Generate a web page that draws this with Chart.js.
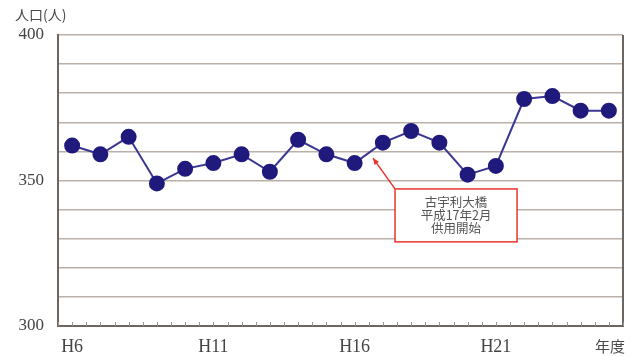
<!DOCTYPE html>
<html>
<head>
<meta charset="utf-8">
<script src="https://cdn.jsdelivr.net/npm/chart.js@4.4.0/dist/chart.umd.min.js"></script>
<style>
  html, body { margin: 0; padding: 0; background: #ffffff; }
  #wrap { width: 634px; height: 356px; position: relative; }
</style>
</head>
<body>
<div id="wrap"><canvas id="popChart"></canvas></div>
<script>
// 年度ごとの人口（人）
var years = ['H6', 'H7', 'H8', 'H9', 'H10', 'H11', 'H12', 'H13', 'H14', 'H15',
             'H16', 'H17', 'H18', 'H19', 'H20', 'H21', 'H22', 'H23', 'H24', 'H25'];
var population = [362, 359, 365, 349, 354, 356, 359, 353, 364, 359,
                  356, 363, 367, 363, 352, 355, 378, 379, 374, 374];
var shownYearLabels = ['H6', 'H11', 'H16', 'H21'];
var shownPopLabels = [300, 350, 400];
var noteLines = ['古宇利大橋', '平成17年2月', '供用開始'];

var gridColor = '#bbb0a8';
var axisColor = '#6d6560';
var jpFont = '"Noto Sans CJK JP", "Noto Sans", sans-serif';

// 枠線・目盛り・注記をまとめて描く
var decorPlugin = {
    id: 'decor',
    beforeDatasetsDraw: function (chart) {
        var ctx = chart.ctx;
        var area = chart.chartArea;
        var xs = chart.scales.x;
        var step = (xs.getPixelForValue(1) - xs.getPixelForValue(0)) / 2;
        ctx.save();
        // 右側の枠線
        ctx.strokeStyle = axisColor;
        ctx.lineWidth = 2;
        ctx.beginPath();
        ctx.moveTo(area.right, area.top);
        ctx.lineTo(area.right, area.bottom);
        ctx.stroke();
        // 横軸の小目盛り
        ctx.lineWidth = 1;
        ctx.strokeStyle = '#9a918a';
        for (var i = 0; i <= years.length * 2; i++) {
            var x = Math.round(area.left + i * step) + 0.5;
            ctx.beginPath();
            ctx.moveTo(x, area.bottom);
            ctx.lineTo(x, area.bottom - 4);
            ctx.stroke();
        }
        ctx.restore();
    },
    afterDraw: function (chart) {
        var ctx = chart.ctx;
        var area = chart.chartArea;
        var xs = chart.scales.x;
        var ys = chart.scales.y;
        ctx.save();
        ctx.fillStyle = '#4a4a4a';
        ctx.font = '14px ' + jpFont;
        ctx.textBaseline = 'middle';
        ctx.textAlign = 'left';
        ctx.fillText('人口(人)', 15, 15);
        ctx.font = '15px ' + jpFont;
        ctx.textAlign = 'right';
        ctx.fillText('年度', area.right + 2, 346);

        // 注記の箱（目盛りの値で位置を決める）
        var bx1 = xs.getPixelForValue(11.43);
        var bx2 = xs.getPixelForValue(15.75);
        var by1 = ys.getPixelForValue(347.1);
        var by2 = ys.getPixelForValue(328.9);
        var tipX = xs.getPixelForValue(10.65);
        var tipY = ys.getPixelForValue(357.7);

        ctx.strokeStyle = '#e8342c';
        ctx.fillStyle = '#e8342c';
        ctx.lineWidth = 1.5;
        ctx.beginPath();
        ctx.moveTo(bx1, by1);
        ctx.lineTo(tipX, tipY);
        ctx.stroke();
        var ang = Math.atan2(tipY - by1, tipX - bx1);
        ctx.beginPath();
        ctx.moveTo(tipX, tipY);
        ctx.lineTo(tipX - 7 * Math.cos(ang - 0.4), tipY - 7 * Math.sin(ang - 0.4));
        ctx.lineTo(tipX - 7 * Math.cos(ang + 0.4), tipY - 7 * Math.sin(ang + 0.4));
        ctx.closePath();
        ctx.fill();

        ctx.fillStyle = '#ffffff';
        ctx.fillRect(bx1, by1, bx2 - bx1, by2 - by1);
        ctx.strokeRect(bx1, by1, bx2 - bx1, by2 - by1);

        ctx.fillStyle = '#555555';
        ctx.font = '12.5px ' + jpFont;
        ctx.textAlign = 'center';
        var cx = (bx1 + bx2) / 2;
        var cy = (by1 + by2) / 2;
        for (var k = 0; k < noteLines.length; k++) {
            ctx.fillText(noteLines[k], cx, cy + (k - 1) * 13);
        }
        ctx.restore();
    }
};

new Chart(document.getElementById('popChart'), {
    type: 'line',
    data: {
        labels: years,
        datasets: [{
            data: population,
            borderColor: '#3b3692',
            borderWidth: 2,
            backgroundColor: '#1f1a7c',
            pointBackgroundColor: '#1f1a7c',
            pointBorderColor: '#1f1a7c',
            pointRadius: 7,
            pointHoverRadius: 7,
            tension: 0,
            fill: false
        }]
    },
    options: {
        responsive: true,
        maintainAspectRatio: false,
        animation: false,
        events: [],
        layout: { padding: { top: 35, right: 11, bottom: 0, left: 0 } },
        plugins: { legend: { display: false }, tooltip: { enabled: false } },
        scales: {
            x: {
                offset: true,
                grid: { display: false, drawTicks: false },
                border: { color: axisColor, width: 2 },
                ticks: {
                    autoSkip: false,
                    maxRotation: 0,
                    padding: 10,
                    color: '#444444',
                    font: { family: '"Liberation Serif", serif', size: 18 },
                    callback: function (value) {
                        var lab = years[value];
                        return shownYearLabels.indexOf(lab) >= 0 ? lab : '';
                    }
                },
                afterFit: function (scale) { scale.height = 30; }
            },
            y: {
                min: 300,
                max: 400,
                grid: { color: gridColor, lineWidth: 1.5, drawTicks: false },
                border: { color: axisColor, width: 2 },
                ticks: {
                    stepSize: 10,
                    padding: 14,
                    color: '#444444',
                    font: { family: '"Liberation Serif", serif', size: 17 },
                    callback: function (value) {
                        return shownPopLabels.indexOf(value) >= 0 ? String(value) : '';
                    }
                },
                afterFit: function (scale) { scale.width = 58; }
            }
        }
    },
    plugins: [decorPlugin]
});
</script>
</body>
</html>
